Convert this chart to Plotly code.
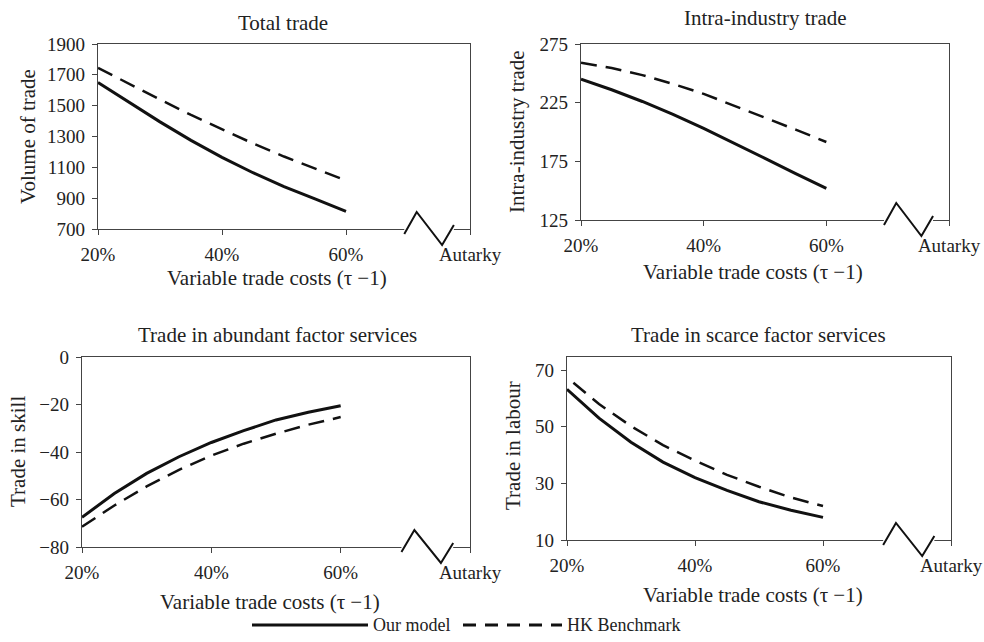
import plotly.graph_objects as go

# ---------------- data ----------------
cost_pct = [20, 25, 30, 35, 40, 45, 50, 55, 60]
cost_pct_hk_labour = [21, 25, 30, 35, 40, 45, 50, 55, 60]

total_our = [1650, 1520, 1395, 1275, 1165, 1065, 975, 895, 815]
total_hk = [1745, 1640, 1540, 1440, 1345, 1255, 1170, 1090, 1015]

intra_our = [245, 236, 226, 215, 203, 190.5, 177.5, 164.5, 152]
intra_hk = [259, 254.5, 248.5, 241, 232.5, 222.5, 212, 202, 191.5]

skill_our = [-67.5, -57.5, -49, -42, -36, -31, -26.5, -23.3, -20.5]
skill_hk = [-71.5, -62.5, -54.5, -47.5, -41.5, -36.5, -32.3, -28.5, -25.3]

labour_our = [63.2, 53, 44.5, 37.5, 32, 27.5, 23.5, 20.5, 18]
labour_hk = [65.5, 58, 50.2, 43.5, 38, 33, 28.8, 25, 22]

x_tickvals = [20, 40, 60, 80]
x_ticktext = ["20%", "40%", "60%", "Autarky"]

series_names = ["Our model", "HK Benchmark"]
x_title = "Variable trade costs (τ −1)"

# ---------------- layout helpers ----------------
W, H = 984, 642
FONT = "Liberation Serif"
TXT = "#222222"
AX = "#444444"
INK = "#111111"


def px(x):
    return x / W


def py(y):
    return 1 - y / H


panels = [
    dict(title="Total trade", ytitle="Volume of trade",
         x=cost_pct, ours=total_our, xhk=cost_pct, hk=total_hk,
         yrange=[700, 1900], ytick=[700, 900, 1100, 1300, 1500, 1700, 1900],
         dom_x=(98, 470), dom_y=(44, 229),
         t_pos=(283, 23), xt_pos=(277, 278), yt_pos=(28, 137)),
    dict(title="Intra-industry trade", ytitle="Intra-industry trade",
         x=cost_pct, ours=intra_our, xhk=cost_pct, hk=intra_hk,
         yrange=[125, 275], ytick=[125, 175, 225, 275],
         dom_x=(581, 949), dom_y=(44, 220),
         t_pos=(765, 18), xt_pos=(753, 272), yt_pos=(517, 132)),
    dict(title="Trade in abundant factor services", ytitle="Trade in skill",
         x=cost_pct, ours=skill_our, xhk=cost_pct, hk=skill_hk,
         yrange=[-80, 0], ytick=[-80, -60, -40, -20, 0],
         dom_x=(82, 470), dom_y=(357, 547),
         t_pos=(277, 335), xt_pos=(270, 602), yt_pos=(18, 452)),
    dict(title="Trade in scarce factor services", ytitle="Trade in labour",
         x=cost_pct, ours=labour_our, xhk=cost_pct_hk_labour, hk=labour_hk,
         yrange=[10, 74.6], ytick=[10, 30, 50, 70],
         dom_x=(567, 951), dom_y=(357, 540),
         t_pos=(758, 335), xt_pos=(753, 595), yt_pos=(513, 446)),
]

fig = go.Figure()
annotations = []
shapes = []

for i, p in enumerate(panels, start=1):
    sfx = "" if i == 1 else str(i)
    xa, ya = "x" + sfx, "y" + sfx
    fig.add_trace(go.Scatter(x=p["x"], y=p["ours"], mode="lines", name=series_names[0],
                             line=dict(color=INK, width=3), xaxis=xa, yaxis=ya,
                             showlegend=False))
    fig.add_trace(go.Scatter(x=p["xhk"], y=p["hk"], mode="lines", name=series_names[1],
                             line=dict(color=INK, width=2.5, dash="16px,9px"),
                             xaxis=xa, yaxis=ya, showlegend=False))

    fig.layout["xaxis" + sfx] = dict(
        domain=[px(p["dom_x"][0]), px(p["dom_x"][1])], anchor=ya,
        range=[20, 80], tickvals=x_tickvals, ticktext=x_ticktext,
        showline=True, mirror=True, linecolor=AX, linewidth=1.3,
        ticks="outside", ticklen=5, tickcolor=AX, tickwidth=1.3,
        showgrid=False, zeroline=False, automargin=False,
        ticklabelstandoff=3,
        tickfont=dict(family=FONT, size=19, color=TXT))
    fig.layout["yaxis" + sfx] = dict(
        domain=[py(p["dom_y"][1]), py(p["dom_y"][0])], anchor=xa,
        range=p["yrange"], tickvals=p["ytick"],
        ticktext=[str(v).replace("-", "−") for v in p["ytick"]],
        showline=True, mirror=True, linecolor=AX, linewidth=1.3,
        ticks="outside", ticklen=5, tickcolor=AX, tickwidth=1.3,
        showgrid=False, zeroline=False, automargin=False,
        ticklabelstandoff=3,
        tickfont=dict(family=FONT, size=19, color=TXT))

    annotations.append(dict(text=p["title"], x=px(p["t_pos"][0]), y=py(p["t_pos"][1]),
                            xref="paper", yref="paper", showarrow=False,
                            xanchor="center", yanchor="middle",
                            font=dict(family=FONT, size=21, color=TXT)))
    annotations.append(dict(text=x_title, x=px(p["xt_pos"][0]), y=py(p["xt_pos"][1]),
                            xref="paper", yref="paper", showarrow=False,
                            xanchor="center", yanchor="middle",
                            font=dict(family=FONT, size=21, color=TXT)))
    annotations.append(dict(text=p["ytitle"], x=px(p["yt_pos"][0]), y=py(p["yt_pos"][1]),
                            xref="paper", yref="paper", showarrow=False, textangle=-90,
                            xanchor="center", yanchor="middle",
                            font=dict(family=FONT, size=21, color=TXT)))

    # axis break: white gap on the x-axis line, then a zig-zag
    shapes.append(dict(type="rect", xref=xa, yref=ya + " domain", layer="above",
                       x0=69.4, x1=77.4, ysizemode="pixel", yanchor=0, y0=-3, y1=3,
                       fillcolor="white", line=dict(width=0)))
    shapes.append(dict(type="path", xref=xa, yref=ya + " domain", layer="above",
                       ysizemode="pixel", yanchor=0,
                       path="M 69.4,-5 L 71.4,17 L 75.5,-16 L 77.4,4",
                       line=dict(color=INK, width=2)))

# legend drawn at the bottom centre
leg_y = py(625)
shapes.append(dict(type="line", xref="paper", yref="paper", x0=px(252), x1=px(368),
                   y0=leg_y, y1=leg_y, line=dict(color=INK, width=3)))
shapes.append(dict(type="line", xref="paper", yref="paper", x0=px(463), x1=px(562),
                   y0=leg_y, y1=leg_y, line=dict(color=INK, width=3, dash="13px,9px")))
annotations.append(dict(text=series_names[0], x=px(371), y=leg_y, xref="paper", yref="paper",
                        showarrow=False, xanchor="left", yanchor="middle",
                        font=dict(family=FONT, size=18, color=TXT)))
annotations.append(dict(text=series_names[1], x=px(565), y=leg_y, xref="paper", yref="paper",
                        showarrow=False, xanchor="left", yanchor="middle",
                        font=dict(family=FONT, size=18, color=TXT)))

fig.update_layout(width=W, height=H, margin=dict(l=0, r=0, t=0, b=0),
                  paper_bgcolor="white", plot_bgcolor="white",
                  annotations=annotations, shapes=shapes, showlegend=False)

# remove the default page margin so the 984x642 figure fills the window exactly
fig.write_html("out.html",
               config={"displayModeBar": False},
               post_script="document.body.style.margin='0';"
                           "document.body.style.overflow='hidden';")
